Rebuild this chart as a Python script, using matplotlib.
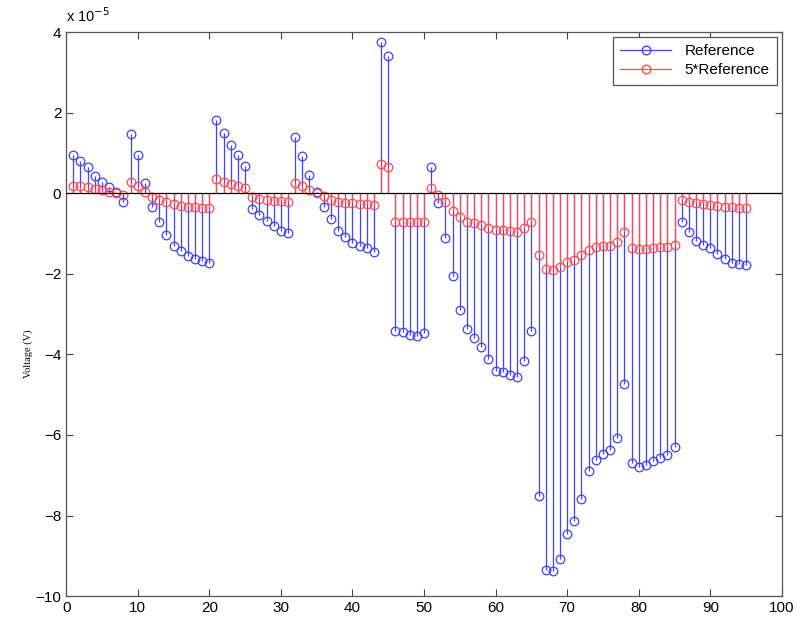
import numpy as np
import matplotlib
matplotlib.use("Agg")
import matplotlib.pyplot as plt
from matplotlib.lines import Line2D
from matplotlib.legend_handler import HandlerLine2D

# sample index 1..95, voltages in units of 1e-5 V
samples = np.arange(1, 96)

reference = [
    0.96, 0.80, 0.65, 0.44, 0.29, 0.15, 0.04, -0.22, 1.47, 0.94,
    0.26, -0.35, -0.72, -1.04, -1.30, -1.44, -1.55, -1.63, -1.69, -1.73,
    1.82, 1.50, 1.21, 0.94, 0.67, -0.39, -0.54, -0.68, -0.82, -0.93,
    -0.99, 1.39, 0.92, 0.46, 0.02, -0.33, -0.64, -0.93, -1.09, -1.24,
    -1.30, -1.37, -1.45, 3.76, 3.42, -3.42, -3.44, -3.52, -3.54, -3.46,
    0.66, -0.25, -1.11, -2.06, -2.90, -3.36, -3.60, -3.81, -4.12, -4.41,
    -4.43, -4.50, -4.55, -4.16, -3.42, -7.52, -9.34, -9.38, -9.07, -8.45,
    -8.14, -7.60, -6.90, -6.61, -6.48, -6.38, -6.07, -4.73, -6.69, -6.80,
    -6.75, -6.65, -6.57, -6.50, -6.29, -0.70, -0.95, -1.19, -1.29, -1.36,
    -1.51, -1.63, -1.73, -1.76, -1.77,
]

reference_5 = [
    0.19, 0.17, 0.15, 0.11, 0.07, 0.03, 0.00, -0.05, 0.27, 0.17,
    0.03, -0.08, -0.17, -0.22, -0.27, -0.31, -0.33, -0.35, -0.36, -0.36,
    0.36, 0.29, 0.23, 0.19, 0.13, -0.10, -0.14, -0.17, -0.18, -0.20,
    -0.21, 0.26, 0.17, 0.08, 0.00, -0.07, -0.16, -0.21, -0.23, -0.25,
    -0.27, -0.27, -0.29, 0.73, 0.66, -0.70, -0.70, -0.71, -0.71, -0.70,
    0.12, -0.04, -0.22, -0.43, -0.60, -0.70, -0.74, -0.78, -0.86, -0.91,
    -0.91, -0.93, -0.95, -0.86, -0.70, -1.53, -1.88, -1.90, -1.82, -1.70,
    -1.65, -1.53, -1.41, -1.34, -1.32, -1.30, -1.22, -0.95, -1.36, -1.38,
    -1.38, -1.36, -1.34, -1.33, -1.28, -0.16, -0.21, -0.25, -0.27, -0.28,
    -0.32, -0.33, -0.35, -0.36, -0.36,
]

blue = (0.25, 0.25, 1.0)
red = (1.0, 0.3, 0.3)


class StemHandler(HandlerLine2D):
    # matlab style legend entry: line with the marker at its right end
    def get_xdata(self, legend, xdescent, ydescent, width, height, fontsize):
        return [-xdescent, -xdescent + width], [-xdescent + width]


fig = plt.figure(figsize=(7.97, 6.19), dpi=100)
ax = fig.add_axes([0.083, 0.037, 0.898, 0.911])

for vals, col in [(reference, blue), (reference_5, red)]:
    ax.vlines(samples, 0, vals, color=col, lw=0.9)
    ax.plot(samples, vals, 'o', ms=6.2, mfc='none', mec=col, mew=0.9)

ax.axhline(0, color='k', lw=0.9, zorder=3)

ax.set_xlim(0, 100)
ax.set_ylim(-10, 4)
ax.set_xticks(np.arange(0, 101, 10))
ax.set_yticks(np.arange(-10, 5, 2))
ax.tick_params(direction='in', top=True, right=True, length=5, width=0.8,
               color='#444444', labelsize=11)
for lab in ax.get_xticklabels() + ax.get_yticklabels():
    lab.set_family('Liberation Sans')
for sp in ax.spines.values():
    sp.set_color('#555555')
    sp.set_linewidth(0.9)

ax.set_ylabel('Voltage (V)', family='Liberation Serif', fontsize=7.5)
ax.yaxis.set_label_coords(-0.046, 0.43)
ax.text(0.0, 1.012, r'x 10$^{-5}$', transform=ax.transAxes, ha='left', va='bottom',
        family='Liberation Sans', fontsize=10.5)

handles = [
    Line2D([], [], color=blue, lw=0.9, marker='o', ms=6.2, mfc='none', mec=blue),
    Line2D([], [], color=red, lw=0.9, marker='o', ms=6.2, mfc='none', mec=red),
]
leg = ax.legend(handles, ['Reference', '5*Reference'], loc='upper right',
                handler_map={Line2D: StemHandler(numpoints=1)},
                prop={'family': 'Liberation Sans', 'size': 11},
                fancybox=False, edgecolor='#555555', framealpha=1,
                borderaxespad=0.3, handlelength=3.3, labelspacing=0.3,
                borderpad=0.5, handletextpad=0.9)
leg.get_frame().set_linewidth(0.9)

fig.savefig('out.png', dpi=100)
